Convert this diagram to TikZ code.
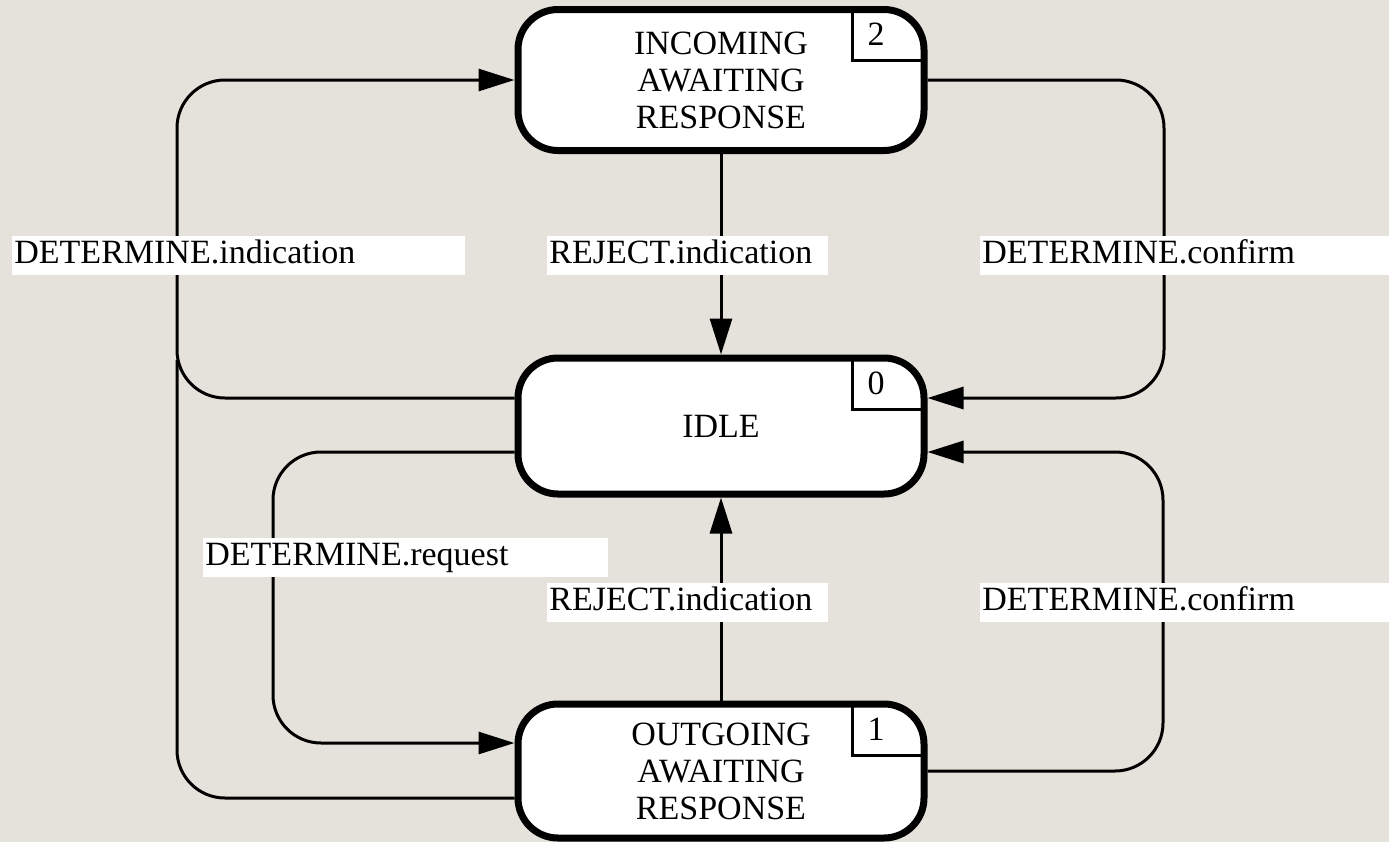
\documentclass[tikz,border=0pt]{standalone}
\usepackage{fontspec}
\setmainfont{Liberation Serif}
\usetikzlibrary{arrows.meta,positioning}
\definecolor{bgcol}{RGB}{228,226,218}
\tikzset{
  x=0.5pt, y=-0.5pt,
  txt/.style = {font=\fontsize{17}{18.5}\selectfont},
  state/.style = {txt, draw=black, fill=white, line width=3.5pt, rounded corners=20pt,
                  align=center, minimum width=203pt, minimum height=68pt, inner sep=0pt},
  numbox/.style = {line width=1.5pt},
  num/.style = {txt, inner sep=0pt},
  line/.style = {line width=1.5pt, rounded corners=24pt},
  flow/.style = {line, -{Triangle[length=18pt,width=11pt]}},
  lbl/.style = {txt, fill=white, anchor=west, align=left, inner xsep=1pt, inner ysep=1.75pt,
                text height=12pt, text depth=4pt}
}

\begin{document}
\begin{tikzpicture}
\fill[bgcol] (0,0) rectangle (1389,842);
\useasboundingbox (0,0) rectangle (1389,842);

% states
\node [state, minimum height=70.5pt] (inc) at (721,80) {INCOMING\\AWAITING\\RESPONSE};
\node [state] (idle) at (721,426) {IDLE};
\node [state, minimum height=67pt] (out) at (721,771) {OUTGOING\\AWAITING\\RESPONSE};

% state numbers
\foreach \s/\n in {inc/2, idle/0, out/1} {
  \draw [numbox] ([xshift=-37.75pt]\s.north east) -- ++(0,-27.25pt) -- ([xshift=-1.75pt,yshift=-27.25pt]\s.north east);
  \node [num] (n\n) at ([xshift=-25.75pt,yshift=-14.25pt]\s.north east) {\n};
}

% columns of the loops
\coordinate (lcol) at (177,255);
\coordinate (lmerge) at (177,360);
\coordinate (mcol) at (273,557);
\coordinate (rcol) at (1164,255);
\coordinate (rcol2) at (1163,602);

% transitions
\draw [flow] ([yshift=14pt]idle.west) -| (lcol) |- (inc.west);
\draw [line] ([yshift=-13.5pt]out.west) -| (lmerge);
\draw [flow] (inc.east) -| (rcol) |- ([yshift=14pt]idle.east);
\draw [flow] (out.east) -| (rcol2) |- ([yshift=-13pt]idle.east);
\draw [flow] ([yshift=-13pt]idle.west) -| (mcol) |- ([yshift=14pt]out.west);
\draw [flow] (inc.south) -- (idle.north);
\draw [flow] (out.north) -- (idle.south);

% labels
\node [lbl, text width=224.5pt] (detind) at (12,255.5) {DETERMINE.indication};
\node [lbl, text width=138.5pt] (rejtop) at (547,255.5) {REJECT.indication};
\node [lbl, text width=202.5pt] (detconftop) at (980,255.5) {DETERMINE.confirm};
\node [lbl, text width=200.5pt] (detreq) at (203,557) {DETERMINE.request};
\node [lbl, text width=138.5pt] (rejbot) at (547,602) {REJECT.indication};
\node [lbl, text width=202.5pt] (detconfbot) at (980,602) {DETERMINE.confirm};
\end{tikzpicture}
\end{document}
